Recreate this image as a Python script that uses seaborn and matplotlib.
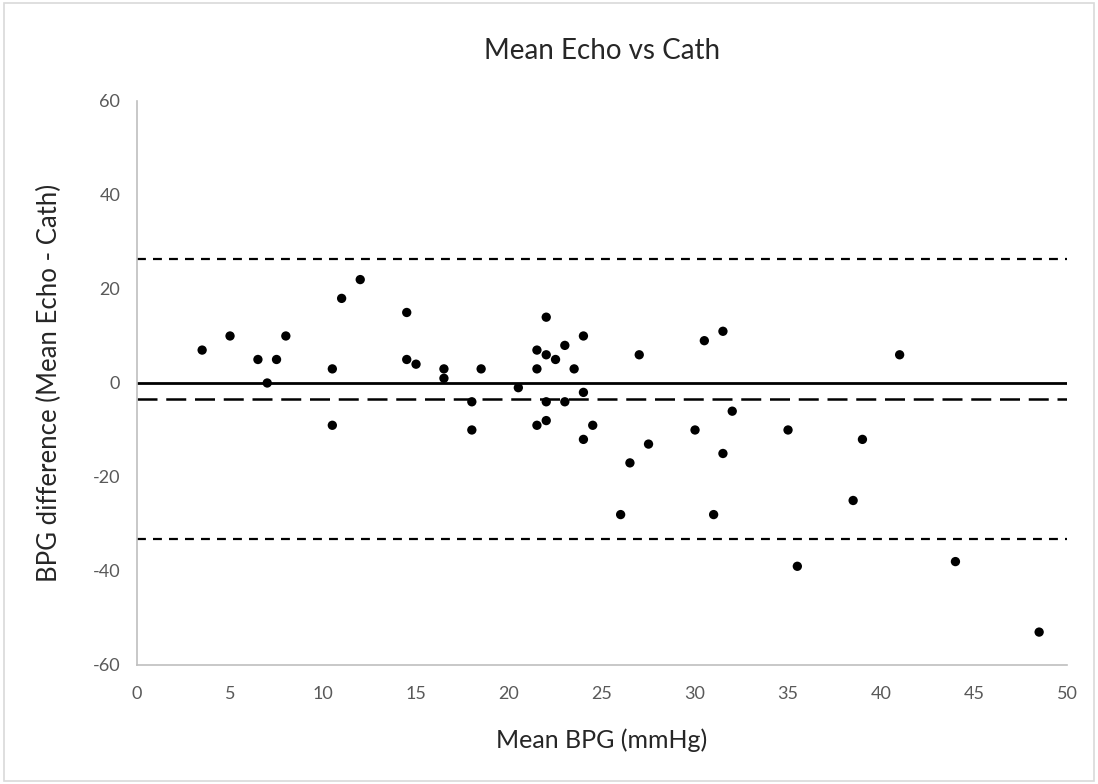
import pandas as pd
import seaborn as sns
import matplotlib.pyplot as plt

# Bland-Altman data
mean_bpg = [3.5, 5, 6.5, 7.5, 8, 7, 10.5, 10.5, 11, 12, 14.5, 14.5, 15, 16.5, 16.5,
            18, 18, 18.5, 20.5, 21.5, 21.5, 21.5, 22, 22, 22, 22, 22.5, 23, 23, 23.5,
            24, 24, 24, 24.5, 26, 26.5, 27, 27.5, 30, 30.5, 31, 31.5, 31.5, 32,
            35, 35.5, 38.5, 39, 41, 44, 48.5]
diff_bpg = [7, 10, 5, 5, 10, 0, 3, -9, 18, 22, 15, 5, 4, 3, 1,
            -4, -10, 3, -1, 7, 3, -9, 14, 6, -4, -8, 5, 8, -4, 3,
            10, -2, -12, -9, -28, -17, 6, -13, -10, 9, -28, 11, -15, -6,
            -10, -39, -25, -12, 6, -38, -53]

bias = -3.4
upper_loa = 26.3
lower_loa = -33.1

df = pd.DataFrame({'Mean BPG': mean_bpg, 'Diff': diff_bpg})

sns.set_style('white')
plt.rcParams['font.family'] = ['Lato', 'DejaVu Sans']
plt.rcParams['axes.unicode_minus'] = False

fig = plt.figure(figsize=(10.98, 7.84), dpi=100)
ax = fig.add_axes([0.1248, 0.1518, 0.847, 0.7194])

sns.scatterplot(data=df, x='Mean BPG', y='Diff', color='black', s=45,
                edgecolor='none', ax=ax, zorder=3)

ax.axhline(0, color='black', lw=2.0, zorder=2)
ax.axhline(bias, color='black', lw=1.8, dashes=(8, 3.5), zorder=2)
ax.axhline(upper_loa, color='black', lw=1.6, dashes=(4, 3.2), zorder=2)
ax.axhline(lower_loa, color='black', lw=1.6, dashes=(4, 3.2), zorder=2)

ax.set_xlim(0, 50)
ax.set_ylim(-60, 60)
ax.set_xticks(range(0, 51, 5))
ax.set_yticks(range(-60, 61, 20))
ax.tick_params(axis='x', length=0, labelsize=13, labelcolor='#595959', pad=15)
ax.tick_params(axis='y', length=0, labelsize=13, labelcolor='#595959', pad=12)

for side in ['top', 'right']:
    ax.spines[side].set_visible(False)
for side in ['left', 'bottom']:
    ax.spines[side].set_color('#bfbfbf')
    ax.spines[side].set_linewidth(1.2)

ax.set_title("Mean Echo vs Cath", fontsize=20, pad=30)
ax.set_xlabel("Mean BPG (mmHg)", fontsize=18, labelpad=19)
ax.set_ylabel("BPG difference (Mean Echo - Cath)", fontsize=18.5, labelpad=22)

# light border around chart area
fig.patches.append(plt.Rectangle((0.004, 0.004), 0.992, 0.992, transform=fig.transFigure,
                                 fill=False, edgecolor='#d9d9d9', lw=1.2))

plt.savefig('out.png', dpi=100)
